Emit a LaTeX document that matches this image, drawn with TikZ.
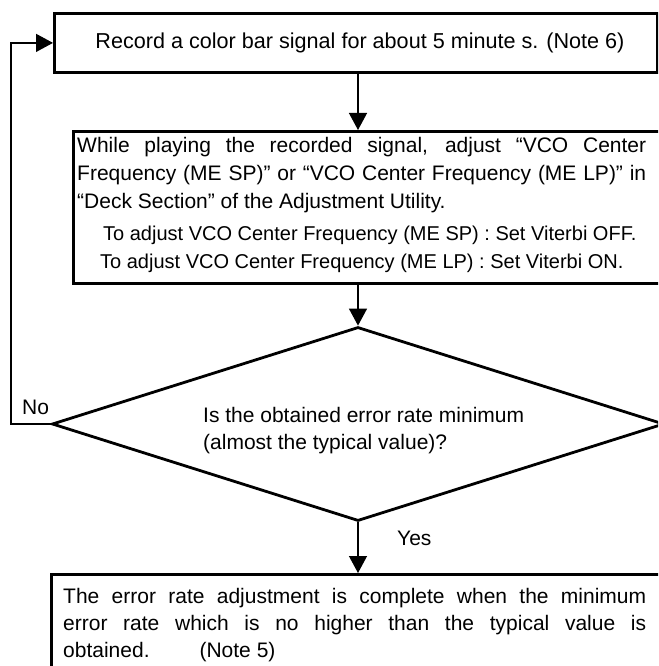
\documentclass[tikz,border=0pt]{standalone}
\usepackage{fontspec}
\setmainfont{Liberation Sans}
\usetikzlibrary{shapes.geometric,arrows.meta}
\begin{document}
\begin{tikzpicture}[x=1pt,y=-1pt,
  shapebox/.style={draw, line width=2.8pt, inner sep=0pt, anchor=north west},
  decision/.style={draw, diamond, line width=2.8pt, inner sep=0pt},
  conn/.style={draw, line width=1.3pt, -{Triangle[length=17pt,width=18pt]}},
  txt/.style={font=\fontsize{21}{28}\selectfont, inner sep=0pt},
]
\clip (0,0) rectangle (658,666);
% boxes
\node[shapebox, minimum width=603pt, minimum height=59pt] (rec) at (53,12) {};
\node[txt, anchor=base, font=\fontsize{21.6}{28}\selectfont] (rectxt) at (360,49) {Record a color bar signal for about 5 minute s. (Note 6)};

\node[shapebox, minimum width=640pt, minimum height=152pt] (play) at (72,130) {};
\node[txt, anchor=base west, align=left] (playtxt) at (77,268) {%
\makebox[569pt][s]{While playing the recorded signal, adjust “VCO Center}\\
\makebox[569pt][s]{Frequency (ME SP)” or “VCO Center Frequency (ME LP)” in}\\
“Deck Section” of the Adjustment Utility.\\[4pt]
{\fontsize{20}{28}\selectfont\hspace*{26pt}To adjust VCO Center Frequency (ME SP) : Set Viterbi OFF.}\\
{\fontsize{20}{28}\selectfont\hspace*{23pt}To adjust VCO Center Frequency (ME LP) : Set Viterbi ON.}};

\node[decision, minimum width=612pt, minimum height=194pt] (dec) at (358,424) {};
\node[txt, anchor=base west, align=left, font=\fontsize{21}{27}\selectfont] (dectxt) at (203,449) {Is the obtained error rate minimum\\(almost the typical value)?};

\node[shapebox, minimum width=640pt, minimum height=150pt] (done) at (50,573) {};
\node[txt, anchor=base west, align=left, font=\fontsize{21}{27}\selectfont] (donetxt) at (63,657) {%
\makebox[583pt][s]{The error rate adjustment is complete when the minimum}\\
\makebox[583pt][s]{error rate which is no higher than the typical value is}\\
obtained.\hspace{50pt}(Note 5)};

% labels
\node[txt, anchor=base west] (no) at (22,414) {No};
\node[txt, anchor=base west] (yes) at (397,545) {Yes};

% connectors
\coordinate (loopc) at (11,424);
\draw[conn] (rec.south -| dec.north) -- (play.north -| dec.north);
\draw[conn] (play.south -| dec.north) -- (dec.north);
\draw[conn] (dec.south) -- (done.north -| dec.south);
\draw[conn] (dec.west) -- (loopc) |- (rec.west);
\end{tikzpicture}
\end{document}
